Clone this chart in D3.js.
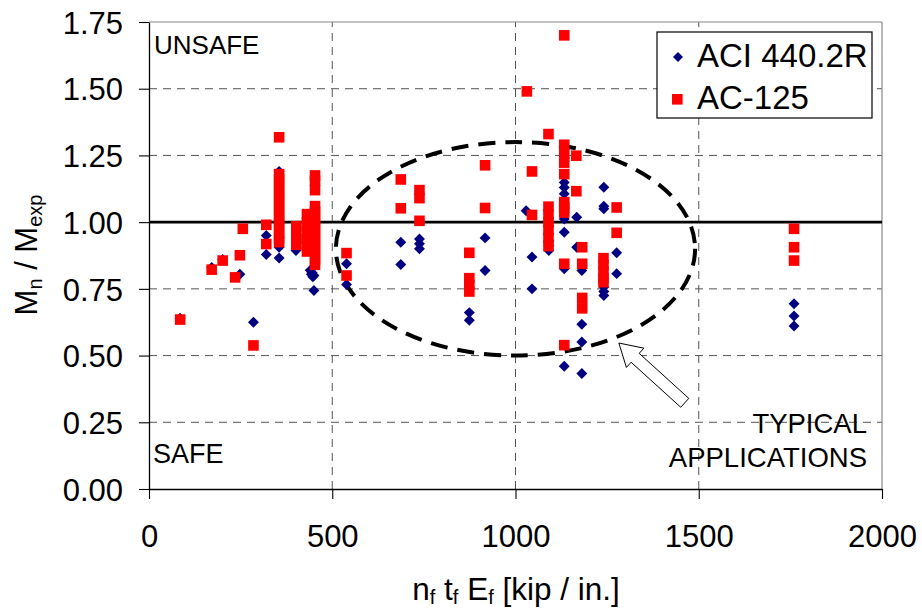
<!DOCTYPE html>
<html><head><meta charset="utf-8">
<script src="https://cdn.jsdelivr.net/npm/d3@7"></script>
<style>
html,body{margin:0;padding:0;background:#fff;}
svg{display:block;font-family:"Liberation Sans",Arial,sans-serif;}
</style></head>
<body><svg id="c" width="922" height="608"></svg>
<script>
// ---- data (x = nf tf Ef [kip/in.], y = Mn / Mexp) ----
const xTicks = [0, 500, 1000, 1500, 2000];
const yTicks = [0, 0.25, 0.5, 0.75, 1.0, 1.25, 1.5, 1.75];
const seriesNames = ["ACI 440.2R", "AC-125"];
const aciPoints = [
  [85,0.64],[171,0.83],[201,0.86],[248,0.805],[285,0.625],
  [320,0.95],[320,0.879],[355,1.19],[355,0.906],[355,0.866],
  [401,0.894],[430,0.937],[440,0.82],[445,0.81],[450,0.80],[447,0.795],[443,0.805],[450,0.744],
  [539,0.844],[539,0.766],[687,0.925],[687,0.841],
  [738,0.937],[738,0.919],[738,0.90],[874,0.661],[874,0.632],
  [917,0.941],[917,0.819],[1029,1.043],[1045,0.869],[1045,0.750],
  [1091,0.931],[1091,0.912],[1091,0.894],
  [1133,1.149],[1133,1.13],[1133,1.106],[1133,1.012],[1133,0.962],[1133,0.825],[1133,0.46],
  [1167,1.018],[1167,0.906],[1181,0.819],[1181,0.617],[1181,0.551],[1181,0.433],
  [1241,1.131],[1241,1.06],[1241,1.05],[1241,0.757],[1241,0.74],[1241,0.725],
  [1276,0.885],[1276,0.807],[1760,0.694],[1760,0.648],[1760,0.611]
];
const acPoints = [
  [85,0.635],[171,0.822],[201,0.856],[235,0.793],[248,0.876],[256,0.975],[285,0.538],
  [320,0.99],[320,0.918],
  [355,1.318],[355,1.18],[355,1.16],[355,1.14],[355,1.12],[355,1.10],[355,1.08],[355,1.06],
  [355,1.04],[355,1.02],[355,1.00],[355,0.98],[355,0.96],[355,0.94],[355,0.925],
  [402,0.985],[402,0.96],[402,0.935],[402,0.915],
  [431,1.03],[431,1.0],[431,0.97],[431,0.94],[431,0.91],[431,0.89],
  [453,1.175],[453,1.155],[453,1.12],[453,1.06],[453,1.04],[453,1.02],[453,1.0],[453,0.98],
  [453,0.96],[453,0.94],[453,0.92],[453,0.90],[453,0.88],[453,0.86],[453,0.84],
  [539,0.884],[539,0.80],[687,1.16],[687,1.052],[738,1.12],[738,1.09],[738,1.005],
  [874,0.885],[874,0.79],[874,0.765],[874,0.74],[917,1.213],[917,1.053],
  [1031,1.49],[1045,1.19],[1045,1.027],
  [1090,1.33],[1090,1.058],[1090,1.03],[1090,1.0],[1090,0.97],[1090,0.94],[1090,0.91],
  [1133,1.70],[1133,1.29],[1133,1.257],[1133,1.223],[1133,1.18],[1133,1.075],[1133,1.055],
  [1133,1.036],[1133,0.844],[1133,0.539],
  [1166,1.249],[1166,1.116],[1182,0.906],[1182,0.844],[1182,0.716],[1182,0.677],
  [1240,0.865],[1240,0.84],[1240,0.815],[1240,0.79],[1240,0.775],
  [1276,1.055],[1276,0.96],[1760,0.975],[1760,0.906],[1760,0.856]
];
const ellipseSpec = {cx:1000, cy:0.9, x0:510, x1:1490, y0:0.5, y1:1.3};
const arrowTip = [1282, 0.547];
const regionLabels = ["UNSAFE", "SAFE", "TYPICAL", "APPLICATIONS"];

// ---- drawing ----
const svg = d3.select("#c");
const FONT = '"Liberation Sans",Arial,sans-serif';
const x = d3.scaleLinear().domain([0,2000]).range([149,882]);
const y = d3.scaleLinear().domain([0,1.75]).range([489,22]);
const navy = "#000080", red = "#ff0000";

// gridlines
const g = svg.append("g");
g.selectAll(".hg").data(yTicks.filter(v=>v>0 && v<1.75 && v!==1)).enter().append("line")
  .attr("x1",x(0)).attr("x2",x(2000)).attr("y1",d=>y(d)).attr("y2",d=>y(d))
  .attr("stroke","#555").attr("stroke-width",1).attr("stroke-dasharray","8,6");
g.selectAll(".vg").data(xTicks.filter(v=>v>0 && v<2000)).enter().append("line")
  .attr("y1",y(0)).attr("y2",y(1.75)).attr("x1",d=>x(d)).attr("x2",d=>x(d))
  .attr("stroke","#555").attr("stroke-width",1).attr("stroke-dasharray","8,6");
// top & right border
g.append("line").attr("x1",x(0)).attr("x2",x(2000)).attr("y1",y(1.75)).attr("y2",y(1.75)).attr("stroke","#888").attr("stroke-width",1.2);
g.append("line").attr("x1",x(2000)).attr("x2",x(2000)).attr("y1",y(0)).attr("y2",y(1.75)).attr("stroke","#888").attr("stroke-width",1.2);

// region labels
svg.append("text").attr("x",154).attr("y",54).attr("font-size",26).attr("font-family",FONT).text(regionLabels[0]);
svg.append("text").attr("x",153).attr("y",463).attr("font-size",27).attr("font-family",FONT).text(regionLabels[1]);
svg.append("text").attr("x",867).attr("y",433).attr("text-anchor","end").attr("font-size",27.5).attr("font-family",FONT).text(regionLabels[2]);
svg.append("text").attr("x",867).attr("y",467).attr("text-anchor","end").attr("font-size",27.5).attr("font-family",FONT).text(regionLabels[3]);

// reference line at 1.00
svg.append("line").attr("x1",x(0)).attr("x2",x(2000)).attr("y1",y(1)).attr("y2",y(1))
  .attr("stroke","#000").attr("stroke-width",2.6);

// axes
const yAxis = d3.axisLeft(y).tickValues(yTicks).tickFormat(d3.format(".2f")).tickSize(10).tickSizeOuter(0).tickPadding(16);
const ya = svg.append("g").attr("transform",`translate(${x(0)},0)`).call(yAxis);
const xAxis = d3.axisBottom(x).tickValues(xTicks).tickFormat(d3.format("d")).tickSize(10).tickSizeOuter(0);
const xa = svg.append("g").attr("transform",`translate(0,${y(0)})`).call(xAxis);
[ya,xa].forEach(a=>{
  a.select(".domain").attr("stroke","#000").attr("stroke-width",1.3);
  a.selectAll(".tick line").attr("stroke","#000").attr("stroke-width",1.1);
  a.selectAll("text").attr("font-size",31).attr("font-family",FONT).attr("fill","#000");
});
ya.selectAll("text").attr("dy","0.36em");
xa.selectAll("text").attr("y",58).attr("dy",0);

// axis titles
const xt = svg.append("text").attr("x",516).attr("y",600).attr("text-anchor","middle")
  .attr("font-size",31.5).attr("font-family",FONT);
xt.append("tspan").text("n");
xt.append("tspan").attr("font-size",20).attr("dy",4).text("f");
xt.append("tspan").attr("dy",-4).text(" t");
xt.append("tspan").attr("font-size",20).attr("dy",4).text("f");
xt.append("tspan").attr("dy",-4).text(" E");
xt.append("tspan").attr("font-size",20).attr("dy",4).text("f");
xt.append("tspan").attr("dy",-4).text(" [kip / in.]");

const yt = svg.append("text").attr("transform","translate(37,255) rotate(-90)").attr("text-anchor","middle")
  .attr("font-size",31).attr("font-family",FONT);
yt.append("tspan").text("M");
yt.append("tspan").attr("font-size",20).attr("dy",5).text("n");
yt.append("tspan").attr("dy",-5).text(" / M");
yt.append("tspan").attr("font-size",20).attr("dy",5).text("exp");

// ellipse
const ex = x(ellipseSpec.cx), ey = y(ellipseSpec.cy);
svg.append("ellipse").attr("cx",ex).attr("cy",ey)
  .attr("rx",(x(ellipseSpec.x1)-x(ellipseSpec.x0))/2).attr("ry",(y(ellipseSpec.y0)-y(ellipseSpec.y1))/2)
  .attr("fill","none").attr("stroke","#000").attr("stroke-width",4).attr("stroke-dasharray","17,10");

// markers
svg.append("g").selectAll("path").data(aciPoints).enter().append("path")
  .attr("d",d3.symbol().type(d3.symbolSquare).size(60))
  .attr("transform",d=>`translate(${x(d[0])},${y(d[1])}) rotate(45)`).attr("fill",navy);
svg.append("g").selectAll("rect").data(acPoints).enter().append("rect")
  .attr("x",d=>x(d[0])-5.3).attr("y",d=>y(d[1])-5.3).attr("width",10.6).attr("height",10.6).attr("fill",red);

// hollow arrow
(function(){
  const T = [x(arrowTip[0]), y(arrowTip[1])];
  const ang = Math.atan2(0.672, 0.741);
  const u = [Math.cos(ang), Math.sin(ang)], n = [-u[1], u[0]];
  const P = (a,b)=>[T[0]+u[0]*a+n[0]*b, T[1]+u[1]*a+n[1]*b];
  const pts = [P(0,0),P(22,-13),P(22,-6),P(89,-6),P(89,6),P(22,6),P(22,13)];
  svg.append("path").attr("d", d3.line()(pts)+"Z").attr("fill","#fff").attr("stroke","#000").attr("stroke-width",1);
})();

// legend
const lg = svg.append("g");
lg.append("rect").attr("x",657).attr("y",32).attr("width",215).attr("height",86)
  .attr("fill","#fff").attr("stroke","#000").attr("stroke-width",1.2);
lg.append("path").attr("d",d3.symbol().type(d3.symbolSquare).size(50)).attr("transform","translate(678,57) rotate(45)").attr("fill",navy);
lg.append("rect").attr("x",672).attr("y",94).attr("width",10.6).attr("height",10.6).attr("fill",red);
lg.append("text").attr("x",697).attr("y",67).attr("font-size",33).attr("font-family",FONT).text(seriesNames[0]);
lg.append("text").attr("x",697).attr("y",109).attr("font-size",33).attr("font-family",FONT).text(seriesNames[1]);
</script></body></html>
